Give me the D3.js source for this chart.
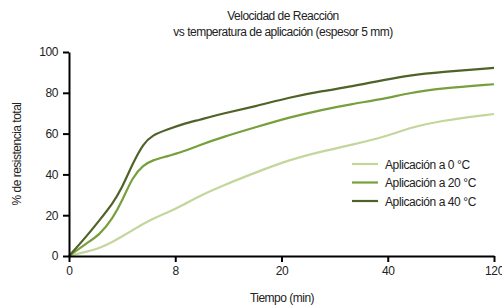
<!DOCTYPE html>
<html>
<head>
<meta charset="utf-8">
<script src="https://cdn.jsdelivr.net/npm/d3@7"></script>
<style>
  body { margin: 0; background: #fff; }
  svg text { font-family: "Liberation Sans", Arial, sans-serif; fill: #222; }
</style>
</head>
<body>
<div id="root"></div>
<script>
// time in minutes
const times = [0, 1.3, 2.3, 3.3, 4, 4.8, 5.6, 6.3, 7.3, 9, 10.5, 13.5, 17, 21.5, 28, 33, 40, 55, 80, 120];
const serie0 = [0, 2.1, 3.8, 7, 9.6, 12.7, 15.8, 18.3, 20.9, 25.2, 29, 34.8, 40.8, 47.2, 51.6, 54.3, 58.8, 62.6, 66.4, 69.6];
const serie20 = [0, 6.2, 10.3, 18.5, 27, 38.9, 44.6, 47, 48.7, 51.3, 54, 58.5, 63, 68, 71.9, 74.4, 77.4, 79.8, 82.2, 84.2];
const serie40 = [0, 9.5, 17.6, 25.8, 33.5, 45.4, 55.2, 59.3, 61.8, 64.9, 66.5, 70, 73.3, 77.8, 81, 83, 86.6, 88.4, 90.2, 92.2];
const xTicks = [0, 8, 20, 40, 120];
const yTicks = [0, 20, 40, 60, 80, 100];
const seriesNames = ['Aplicación a 0 °C', 'Aplicación a 20 °C', 'Aplicación a 40 °C'];
const colors = ['#c3d69b', '#77a03c', '#4f6228'];

const width = 502, height = 308;
const plot = { left: 69, right: 494, top: 52, bottom: 256 };

const svg = d3.select('#root').append('svg')
  .attr('width', width)
  .attr('height', height);

// x axis: ticks evenly spaced, piecewise linear between them
const xScale = d3.scaleLinear()
  .domain(xTicks)
  .range(xTicks.map((d, i) => plot.left + i * (plot.right - plot.left) / (xTicks.length - 1)));

const yScale = d3.scaleLinear()
  .domain([0, 100])
  .range([plot.bottom, plot.top]);

const line = d3.line()
  .x(d => xScale(d.t))
  .y(d => yScale(d.v))
  .curve(d3.curveBasis);

[serie0, serie20, serie40].forEach((vals, i) => {
  const data = times.map((t, j) => ({ t: t, v: vals[j] }));
  svg.append('path')
    .datum(data)
    .attr('d', line)
    .attr('fill', 'none')
    .attr('stroke', colors[i])
    .attr('stroke-width', 2.2);
});

const yAxis = svg.append('g')
  .attr('transform', `translate(${plot.left},0)`)
  .call(d3.axisLeft(yScale).tickValues(yTicks).tickSize(6).tickSizeOuter(0).tickPadding(5));

const xAxis = svg.append('g')
  .attr('transform', `translate(0,${plot.bottom})`)
  .call(d3.axisBottom(xScale).tickValues(xTicks).tickSize(6).tickSizeOuter(0).tickPadding(4));

[yAxis, xAxis].forEach(ax => {
  ax.select('.domain').attr('stroke', '#000').attr('stroke-width', 2);
  ax.selectAll('.tick line').attr('stroke', '#000').attr('stroke-width', 2);
  ax.selectAll('.tick text')
    .attr('fill', '#222')
    .style('font-size', '12px')
    .style('letter-spacing', '-0.4px')
    .style('font-family', '"Liberation Sans", Arial, sans-serif');
});

// titles
svg.append('text')
  .attr('x', 283).attr('y', 20)
  .attr('text-anchor', 'middle')
  .style('font-size', '12px').style('letter-spacing', '-0.5px')
  .text('Velocidad de Reacción');
svg.append('text')
  .attr('x', 283).attr('y', 36)
  .attr('text-anchor', 'middle')
  .style('font-size', '12px').style('letter-spacing', '-0.5px')
  .text('vs  temperatura de aplicación (espesor 5 mm)');

svg.append('text')
  .attr('x', 282).attr('y', 302)
  .attr('text-anchor', 'middle')
  .style('font-size', '12px').style('letter-spacing', '-0.5px')
  .text('Tiempo (min)');

svg.append('text')
  .attr('transform', `translate(21,${(plot.top + plot.bottom) / 2}) rotate(-90)`)
  .attr('text-anchor', 'middle')
  .style('font-size', '12px').style('letter-spacing', '-0.5px')
  .text('% de resistencia total');

// legend
const legend = svg.append('g').attr('transform', 'translate(352,164)');
seriesNames.forEach((name, i) => {
  const g = legend.append('g').attr('transform', `translate(0,${i * 18.5})`);
  g.append('line')
    .attr('x1', 0).attr('x2', 26)
    .attr('stroke', colors[i]).attr('stroke-width', 2.2);
  g.append('text')
    .attr('x', 33).attr('y', 4.5)
    .style('font-size', '12px').style('letter-spacing', '-0.4px')
    .text(name);
});
</script>
</body>
</html>
